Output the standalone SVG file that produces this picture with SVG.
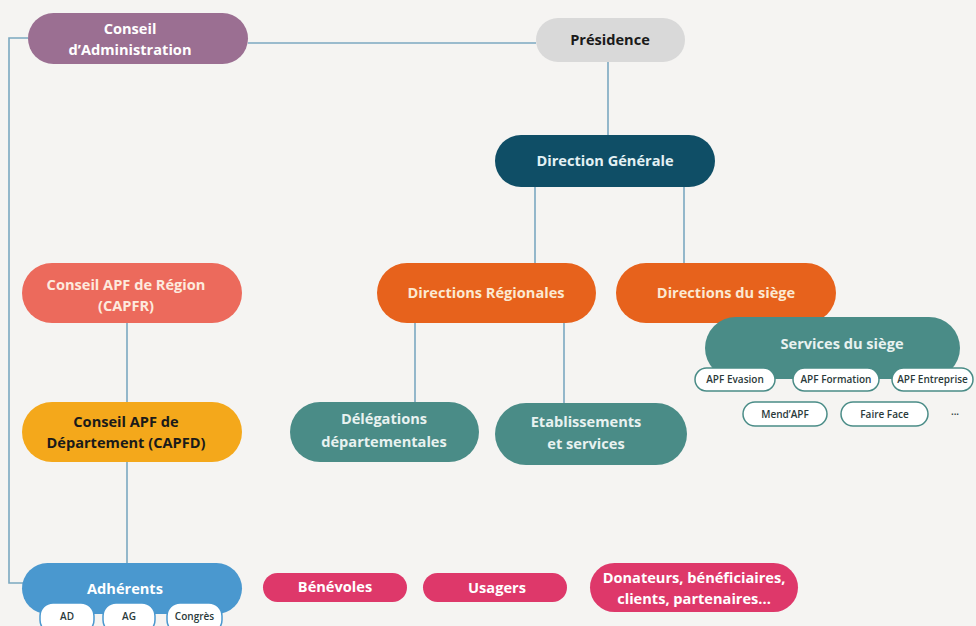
<svg xmlns="http://www.w3.org/2000/svg" width="976" height="626" viewBox="0 0 976 626">
<style>
.t{font-family:"Open Sans","Liberation Sans",sans-serif;font-weight:700;font-size:14.6px;text-anchor:middle}
.s{font-family:"Open Sans","Liberation Sans",sans-serif;font-weight:600;font-size:10px;text-anchor:middle;fill:#2a3a3a}
.w{fill:#ffffff}
.cream{fill:#fbe9d2}
.dk{fill:#1a1a1a}
.pt{fill:#ffffff;stroke:#4a8c87;stroke-width:1.5}
.pb{fill:#ffffff;stroke:#4a98cf;stroke-width:1.5}
#connectors path{fill:none;stroke:#7ba8c0;stroke-width:1.6}
</style>
<rect width="976" height="626" fill="#f5f4f2"/>
<g id="connectors">
<path d="M28,38 H9 V583 H24"/>
<path d="M248,43 H536"/>
<path d="M608,62 V136"/>
<path d="M535,187 V263"/>
<path d="M684,187 V263"/>
<path d="M415,323 V402"/>
<path d="M564,323 V403"/>
<path d="M127,323 V402"/>
<path d="M127,462 V564"/>
</g>
<g id="conseil-admin">
<rect x="28" y="13" width="220" height="51" rx="25.5" fill="#9b6f92"/>
<text class="t w" x="130" y="33.5">Conseil</text>
<text class="t w" x="130" y="54.5">d’Administration</text>
</g>
<g id="presidence">
<rect x="536" y="18" width="149" height="44" rx="22" fill="#d9d9d9"/>
<text class="t dk" x="610" y="45">Présidence</text>
</g>
<g id="direction-generale">
<rect x="495" y="135" width="220" height="52" rx="26" fill="#0f4e66"/>
<text class="t" fill="#e3f1f4" x="605" y="166">Direction Générale</text>
</g>
<g id="directions-regionales">
<rect x="377" y="263" width="219" height="60" rx="30" fill="#e7621c"/>
<text class="t cream" x="486" y="298">Directions Régionales</text>
</g>
<g id="directions-siege">
<rect x="616" y="263" width="220" height="60" rx="30" fill="#e7621c"/>
<text class="t cream" x="726" y="298">Directions du siège</text>
</g>
<g id="services-siege">
<rect x="705" y="317" width="255" height="62" rx="31" fill="#4a8c87"/>
<text class="t" fill="#e8f2f0" x="842" y="349">Services du siège</text>
</g>
<g id="apf-evasion">
<rect class="pt" x="695" y="368" width="80" height="23" rx="11.5"/>
<text class="s" x="735" y="383">APF Evasion</text>
</g>
<g id="apf-formation">
<rect class="pt" x="793" y="368" width="86" height="23" rx="11.5"/>
<text class="s" x="836" y="383">APF Formation</text>
</g>
<g id="apf-entreprise">
<rect class="pt" x="892" y="368" width="81" height="23" rx="11.5"/>
<text class="s" x="932.5" y="383">APF Entreprise</text>
</g>
<g id="mend-apf">
<rect class="pt" x="743" y="402" width="84" height="24" rx="12"/>
<text class="s" x="785" y="418">Mend’APF</text>
</g>
<g id="faire-face">
<rect class="pt" x="841" y="402" width="87" height="24" rx="12"/>
<text class="s" x="884.5" y="418">Faire Face</text>
</g>
<g id="etc">
<text class="s" x="955" y="415">...</text>
</g>
<g id="delegations">
<rect x="290" y="402" width="189" height="60" rx="30" fill="#4a8c87"/>
<text class="t" fill="#e8f2f0" x="384" y="424">Délégations</text>
<text class="t" fill="#e8f2f0" x="384" y="447">départementales</text>
</g>
<g id="etablissements">
<rect x="495" y="403" width="192" height="62" rx="31" fill="#4a8c87"/>
<text class="t" fill="#e8f2f0" x="586" y="427">Etablissements</text>
<text class="t" fill="#e8f2f0" x="586" y="449">et services</text>
</g>
<g id="capfr">
<rect x="22" y="263" width="220" height="60" rx="30" fill="#ec6a5c"/>
<text class="t" fill="#fdeade" x="126" y="290">Conseil APF de Région</text>
<text class="t" fill="#fdeade" x="126" y="311">(CAPFR)</text>
</g>
<g id="capfd">
<rect x="22" y="402" width="220" height="60" rx="30" fill="#f4a81b"/>
<text class="t dk" x="126" y="427">Conseil APF de</text>
<text class="t dk" x="126" y="448">Département (CAPFD)</text>
</g>
<g id="adherents">
<rect x="22" y="563" width="220" height="51" rx="25.5" fill="#4a98cf"/>
<text class="t w" x="125" y="594">Adhérents</text>
</g>
<g id="ad">
<rect class="pb" x="40" y="603" width="54" height="30" rx="13"/>
<text class="s" x="67" y="620">AD</text>
</g>
<g id="ag">
<rect class="pb" x="103" y="603" width="52" height="30" rx="13"/>
<text class="s" x="129" y="620">AG</text>
</g>
<g id="congres">
<rect class="pb" x="167" y="603" width="55" height="30" rx="13"/>
<text class="s" x="194.5" y="620">Congrès</text>
</g>
<g id="benevoles">
<rect x="263" y="573" width="144" height="29" rx="14.5" fill="#de386a"/>
<text class="t w" x="335" y="592">Bénévoles</text>
</g>
<g id="usagers">
<rect x="423" y="573" width="144" height="29" rx="14.5" fill="#de386a"/>
<text class="t w" x="497" y="593">Usagers</text>
</g>
<g id="donateurs">
<rect x="590" y="563" width="208" height="49" rx="24.5" fill="#de386a"/>
<text class="t w" x="694" y="583">Donateurs, bénéficiaires,</text>
<text class="t w" x="694" y="604">clients, partenaires...</text>
</g>
</svg>
